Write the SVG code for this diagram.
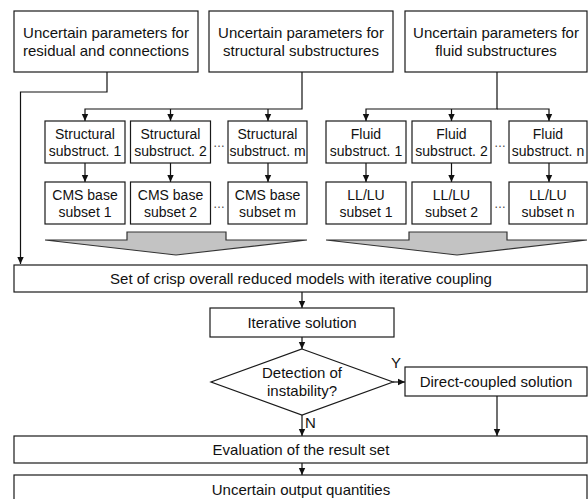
<svg xmlns="http://www.w3.org/2000/svg" width="588" height="499" viewBox="0 0 588 499">
<style>
.box{fill:#fff;stroke:#1a1a1a;stroke-width:1.2}
.t15{font-family:"Liberation Sans",Arial,sans-serif;font-size:15px;fill:#111;text-anchor:middle}
.t14{font-family:"Liberation Sans",Arial,sans-serif;font-size:14px;fill:#111;text-anchor:middle}
.dots{font-family:"Liberation Sans",Arial,sans-serif;font-size:12px;fill:#444;text-anchor:middle}
.ln{fill:none;stroke:#111;stroke-width:1.2}
.big{fill:#c3c3c3;stroke:#333;stroke-width:1.2}
</style>
<defs>
<marker id="ah" markerUnits="userSpaceOnUse" markerWidth="7" markerHeight="8" refX="7" refY="4" orient="auto">
<path d="M0,0.8 L7,4 L0,7.2 z" fill="#111"/>
</marker>
</defs>
<rect width="588" height="499" fill="#fff"/>

<g id="connectors">
<path class="ln" d="M107,72 V92 H20.5 V264" marker-end="url(#ah)"/>
<path class="ln" d="M302,72 V109 H85 V121" marker-end="url(#ah)"/>
<path class="ln" d="M170.5,109 V121" marker-end="url(#ah)"/>
<path class="ln" d="M268,109 V121" marker-end="url(#ah)"/>
<path class="ln" d="M497,72 V109 H366 V121" marker-end="url(#ah)"/>
<path class="ln" d="M451.5,109 V121" marker-end="url(#ah)"/>
<path class="ln" d="M497,109 H549 V121" marker-end="url(#ah)"/>
<path class="ln" d="M85,163 V182" marker-end="url(#ah)"/>
<path class="ln" d="M170.5,163 V182" marker-end="url(#ah)"/>
<path class="ln" d="M268,163 V182" marker-end="url(#ah)"/>
<path class="ln" d="M366,163 V182" marker-end="url(#ah)"/>
<path class="ln" d="M451.5,163 V182" marker-end="url(#ah)"/>
<path class="ln" d="M549,163 V182" marker-end="url(#ah)"/>
<path class="ln" d="M302,292 V308" marker-end="url(#ah)"/>
<path class="ln" d="M302,337 V349" marker-end="url(#ah)"/>
<path class="ln" d="M393,382 H405" marker-end="url(#ah)"/>
<path class="ln" d="M302,415 V436" marker-end="url(#ah)"/>
<path class="ln" d="M497,396 V436" marker-end="url(#ah)"/>
<path class="ln" d="M302,463 V475" marker-end="url(#ah)"/>
<polygon class="big" points="45,240 127,240 127,232 226,232 226,240 307,240 176,255"/>
<polygon class="big" points="326,240 409,240 409,232 507,232 507,240 587,240 457,255"/>
</g>

<g id="n-residual"><rect class="box" x="14" y="11" width="184" height="61"/>
<text class="t15" x="106" y="38">Uncertain parameters for</text><text class="t15" x="106" y="56">residual and connections</text></g>
<g id="n-structural"><rect class="box" x="209" y="11" width="184" height="61"/>
<text class="t15" x="301" y="38">Uncertain parameters for</text><text class="t15" x="301" y="56">structural substructures</text></g>
<g id="n-fluid"><rect class="box" x="405" y="11" width="182" height="61"/>
<text class="t15" x="496" y="38">Uncertain parameters for</text><text class="t15" x="496" y="56">fluid substructures</text></g>

<g id="n-s1"><rect class="box" x="45" y="121" width="80" height="42"/><text class="t14" x="85" y="139">Structural</text><text class="t14" x="85" y="156">substruct. 1</text></g>
<g id="n-s2"><rect class="box" x="130.5" y="121" width="80" height="42"/><text class="t14" x="170.5" y="139">Structural</text><text class="t14" x="170.5" y="156">substruct. 2</text></g>
<g id="n-sm"><rect class="box" x="228" y="121" width="79" height="42"/><text class="t14" x="267.5" y="139">Structural</text><text class="t14" x="267.5" y="156">substruct. m</text></g>
<g id="n-f1"><rect class="box" x="326" y="121" width="80" height="42"/><text class="t14" x="366" y="139">Fluid</text><text class="t14" x="366" y="156">substruct. 1</text></g>
<g id="n-f2"><rect class="box" x="412" y="121" width="79" height="42"/><text class="t14" x="451.5" y="139">Fluid</text><text class="t14" x="451.5" y="156">substruct. 2</text></g>
<g id="n-fn"><rect class="box" x="509" y="121" width="78" height="42"/><text class="t14" x="548" y="139">Fluid</text><text class="t14" x="548" y="156">substruct. n</text></g>

<g id="n-c1"><rect class="box" x="45" y="182" width="80" height="42"/><text class="t14" x="85" y="200">CMS base</text><text class="t14" x="85" y="217">subset 1</text></g>
<g id="n-c2"><rect class="box" x="130.5" y="182" width="80" height="42"/><text class="t14" x="170.5" y="200">CMS base</text><text class="t14" x="170.5" y="217">subset 2</text></g>
<g id="n-cm"><rect class="box" x="228" y="182" width="79" height="42"/><text class="t14" x="267.5" y="200">CMS base</text><text class="t14" x="267.5" y="217">subset m</text></g>
<g id="n-l1"><rect class="box" x="326" y="182" width="80" height="42"/><text class="t14" x="366" y="200">LL/LU</text><text class="t14" x="366" y="217">subset 1</text></g>
<g id="n-l2"><rect class="box" x="412" y="182" width="79" height="42"/><text class="t14" x="451.5" y="200">LL/LU</text><text class="t14" x="451.5" y="217">subset 2</text></g>
<g id="n-ln"><rect class="box" x="509" y="182" width="78" height="42"/><text class="t14" x="548" y="200">LL/LU</text><text class="t14" x="548" y="217">subset n</text></g>

<g id="ellipses">
<text class="dots" x="219" y="147">…</text>
<text class="dots" x="219" y="208">…</text>
<text class="dots" x="500" y="147">…</text>
<text class="dots" x="500" y="208">…</text>
</g>

<g id="n-set"><rect class="box" x="14" y="265" width="573" height="27"/>
<text class="t15" x="301" y="284">Set of crisp overall reduced models with iterative coupling</text></g>
<g id="n-iter"><rect class="box" x="210" y="308" width="184" height="29"/>
<text class="t15" x="302" y="327.5">Iterative solution</text></g>
<g id="n-detect"><polygon class="box" points="302,349 393,382 302,415 211,382"/>
<text class="t15" x="302" y="378">Detection of</text><text class="t15" x="302" y="396">instability?</text></g>
<text class="t15" x="396" y="368">Y</text>
<text class="t15" x="310.5" y="428">N</text>
<g id="n-direct"><rect class="box" x="405" y="367" width="182" height="29"/>
<text class="t15" x="496" y="387">Direct-coupled solution</text></g>
<g id="n-eval"><rect class="box" x="14" y="436" width="573" height="27"/>
<text class="t15" x="301" y="455">Evaluation of the result set</text></g>
<g id="n-out"><rect class="box" x="14" y="475" width="573" height="30"/>
<text class="t15" x="301" y="495">Uncertain output quantities</text></g>
</svg>
